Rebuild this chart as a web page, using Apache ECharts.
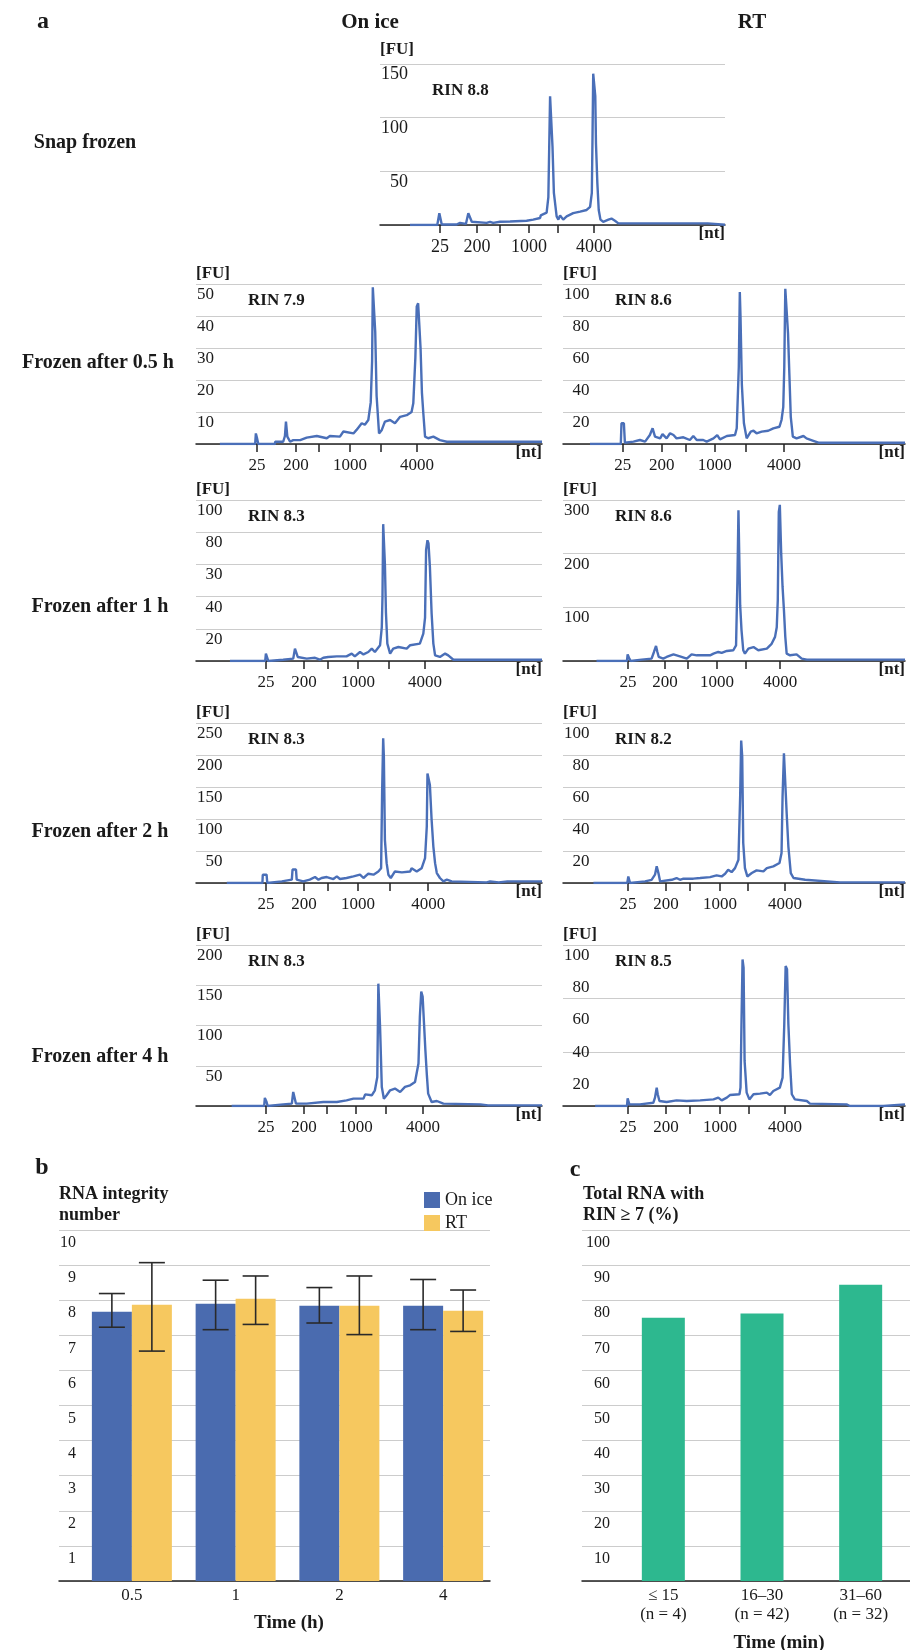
<!DOCTYPE html>
<html>
<head>
<meta charset="utf-8">
<script src="https://cdn.jsdelivr.net/npm/echarts@6.0.0/dist/echarts.min.js"></script>
<style>
html, body { margin: 0; padding: 0; background: #fff; }
#chart { width: 910px; height: 1650px; }
</style>
</head>
<body>
<div id="chart"></div>
<script>
// ---- panel a: electropherograms, [migration position (0-100 of panel width), FU] ----
var traceSnap = [[8.7,0],[16.6,0],[17.2,11],[17.6,11],[17.9,0.5],[22.2,0.5],[22.5,2],[23.2,2],[23.7,0.6],[24.9,1],[25.6,11],[25.9,12.4],[26.6,3],[30.9,2],[31.2,3],[31.9,3],[32.8,2],[34.8,3],[37.7,3.2],[38,4],[42.5,4],[42.8,5],[44.4,5],[44.7,6],[46.4,6.5],[46.6,9],[48.3,11.5],[48.8,26],[49.3,120],[49.8,120],[50,73],[50.4,30],[51.2,8],[51.7,5],[52.2,9],[53.1,5],[54.1,8],[56,11],[58,12.4],[59.9,14],[60.9,17],[61.4,30],[61.6,82],[61.8,141],[62.1,142],[62.4,120],[62.6,76],[63,39],[63.4,14],[63.9,5],[64.7,3],[66.2,5],[67.1,6],[68.1,4],[69.1,1.5],[95,1.5],[95.1,0.2],[100,0.2]];
var traceIce05 = [[6.9,0],[17.1,0],[17.3,3.3],[17.6,2],[18,0],[22.8,0],[22.9,0.7],[25.2,0.7],[25.7,2.5],[26,7],[26.4,2.3],[27.2,0.7],[28.1,1.2],[30.1,1.2],[32,2],[34.9,2.5],[37.8,1.8],[38.7,2.5],[41.6,2.3],[42.6,3.9],[45.5,3.3],[46.4,4.4],[47.9,6.5],[48.8,6],[49.8,7.5],[50.5,13],[50.9,26],[51.1,49],[51.5,49],[51.8,35],[52.2,15],[52.9,3.3],[53.7,4.4],[54.6,7],[56.1,7.5],[57.5,6.5],[59,8.5],[60.9,9],[62.3,10],[62.8,12.7],[63.4,27],[63.8,43],[64.2,44],[64.5,38],[64.9,30],[65.3,16],[65.7,9.6],[66.2,2.3],[67.1,1.8],[68.6,2.3],[70.5,1.2],[72.5,0.7],[100,0.7]];
var traceRT05 = [[7.9,0],[16.9,0],[17.1,13],[17.8,13],[18.1,0.8],[20.6,1.5],[22.5,2.5],[24,1.5],[25.4,5.6],[26.2,9.8],[26.9,4.6],[28.4,3.5],[29.1,6.2],[30.3,3.5],[31.3,6.7],[32.3,5.6],[33.2,3.5],[35.2,4.2],[37.1,2.5],[38.1,5],[39.1,2.5],[41,2.5],[42,1.5],[44,3.5],[45.1,5.6],[45.9,2.9],[47.9,5],[50.3,5.6],[50.8,9.8],[51.4,48],[51.7,95],[51.9,80],[52.3,37],[52.9,13],[53.7,3.5],[54.9,7.7],[55.7,8.3],[56.6,6.7],[58.1,7.7],[60,8.3],[61.5,9.8],[63.3,10.8],[63.9,15],[64.4,23],[64.7,48],[65,97],[65.4,98],[65.8,69],[66.2,43],[66.6,17],[67.2,4.6],[68.3,3.5],[70.3,5],[71.2,3.5],[73.2,2],[74.7,0.8],[100,0.8]];
var traceIce1 = [[9.8,0],[20,0],[20.2,4.6],[20.6,3.5],[20.9,0],[25.2,0.8],[28.1,1.5],[28.6,7.7],[29.1,8.7],[29.4,2.5],[32,1.5],[34.4,2],[35.8,0.8],[36.8,2],[38.2,2.5],[40.7,2.9],[43.5,2.9],[45,4.6],[45.9,2.9],[47.4,5.6],[48.4,4.1],[49.8,5.6],[50.8,7.7],[51.7,5.6],[53.2,9.8],[53.7,21],[53.9,40],[54.1,85],[54.4,86],[54.6,60],[54.9,30],[55.3,10.8],[56.1,4.6],[57,7.7],[58.5,8.7],[60.9,7.7],[61.9,9.8],[64.7,10.8],[65.7,17],[66.2,27],[66.5,69],[66.9,75],[67.2,73],[67.6,58.5],[68.1,29.5],[68.6,10.8],[69.1,3.5],[70.5,2.5],[72,4.6],[72.9,3.5],[74.4,0.8],[100,0.8]];
var traceRT1 = [[9.8,0],[18.7,0],[18.9,12.4],[19.4,4.4],[19.8,0],[23,2.5],[25.9,4.4],[26.6,16.8],[27.2,28],[27.6,16.8],[28,7.5],[29.3,4.4],[30.3,7.5],[32.3,12.4],[34.2,8.7],[36.2,4.4],[37.6,12.4],[39.1,10.6],[43,10.6],[44,13.7],[45.4,16.8],[46.4,15],[47.9,18.7],[49.8,20],[50.6,29],[51,150],[51.3,281],[51.6,175],[51.8,104],[52.2,57],[52.7,20],[53.2,13.7],[54.2,23],[55.7,26],[57.1,20],[59.6,23],[61,32],[62,45],[62.5,63],[62.8,113],[63.1,278],[63.4,291],[63.8,200],[64.2,138],[64.6,95],[65,45],[65.4,13.7],[66.4,10.6],[68.3,12.4],[69.8,4.4],[71.3,2.5],[100,2.5]];
var traceIce2 = [[8.9,0],[19.2,0],[19.3,13],[20.4,13],[20.6,0],[24.8,2.6],[27.7,5.2],[27.9,21],[28.9,21],[29.1,5.2],[31,2.6],[32.9,5.2],[34.4,9.3],[35.4,5.2],[36.3,7.8],[37.8,9.3],[39.7,6.2],[40.7,10.4],[41.6,6.2],[43.5,7.8],[45.5,10.4],[47.4,13],[48.4,7.8],[49.8,14.5],[51.3,13],[52.7,18],[53.5,23],[53.8,145],[54.1,226],[54.3,197],[54.6,67],[55.1,31],[55.6,13],[56.3,7.8],[57.5,18],[59.5,16.6],[61.9,18],[62.3,23],[63.8,18],[65.2,23],[66.2,39],[66.7,88],[66.9,171],[67.3,174],[67.6,153],[68.1,98.5],[68.6,57],[69.1,31],[69.6,15.6],[70.5,7.8],[71.5,2.6],[72.5,5.2],[73.9,2.6],[84,1],[85,2.6],[87.5,1],[90,2.6],[100,2.6]];
var traceRT2 = [[8.9,0],[18.8,0],[19.1,4.1],[19.6,0],[24,1],[25.9,2],[26.9,5.2],[27.4,10.4],[27.9,6.2],[28.4,1],[31.8,2],[33.2,3.1],[34.2,2],[35.2,2.7],[38.1,2.7],[40.1,3.1],[43,3.7],[44.9,4.8],[46.4,4.1],[47.4,5.8],[48.3,8.3],[49.3,6.8],[50.3,9.3],[51.3,14.5],[51.8,54],[52.1,89],[52.4,79],[52.7,25],[53.2,9.3],[53.9,4.1],[55.2,6.2],[56.6,7.9],[58.6,7.3],[59.6,9.3],[61.5,10.4],[63.3,12.5],[63.9,18.7],[64.2,54],[64.6,81],[65,80],[65.4,43.6],[65.9,22.8],[66.6,6.2],[67.4,3.1],[70.8,2],[71.3,1],[81,0.4],[100,0.4]];
var traceIce4 = [[10.3,0],[19.7,0],[19.9,10],[20.4,5],[20.7,0],[25.2,2],[27.7,2.9],[28.1,17.4],[28.6,15.4],[28.9,2.9],[32,2.9],[36.8,5],[40.7,5],[43.5,7],[45.5,9.1],[48.4,9.1],[48.9,14.5],[50.8,13.3],[51.7,19.5],[52.4,36],[52.7,152],[53,154],[53.2,98],[53.7,23.7],[54.3,9.1],[55.1,13.3],[56.1,19.5],[57.5,21.6],[59,17.4],[60.4,23.7],[61.9,25.7],[63.3,29.9],[64.3,52.7],[64.7,111],[65.1,142],[65.5,136],[65.9,102.5],[66.3,69],[66.7,40],[67.1,15.4],[68.1,5],[69.6,6.2],[71.5,2.9],[82.2,2],[84.4,0.8],[100,0.8]];
var traceRT4 = [[9.4,0],[18.7,0],[18.9,4.8],[19.4,1],[19.8,0],[22.5,1],[26.4,2],[26.9,5.2],[27.4,11.4],[27.7,7.3],[28.2,3.1],[30.3,2.5],[33.2,3.5],[36.2,3.1],[40.1,3.5],[44,4.1],[45.4,5.2],[46.4,3.5],[47.9,5.2],[48.8,6.8],[51.6,7.3],[51.9,11.4],[52.2,53],[52.5,91],[52.8,86],[53.1,28],[53.7,8.3],[54.5,4.1],[55.7,7.3],[57.6,7.7],[59.6,8.3],[60.5,6.8],[61.5,9.3],[63.4,11.4],[64.2,17.6],[64.7,50.8],[65.1,87],[65.5,85],[65.9,50.8],[66.4,25.9],[66.9,7.3],[67.8,4.1],[71.3,3.1],[72.2,1.5],[82.9,1],[83.9,0],[93.7,0],[94.2,1],[100,1]];

// [nt] ladder tick positions per panel (25, 200, 500, 1000, 2000, 4000)
var ticksSnap = [17.4, 28.1, 34.8, 43.2, 51.6, 62.0];
var ticksIce05 = [17.6, 28.9, 35.5, 44.5, 53.5, 63.9];
var ticksRT05 = [17.5, 28.9, 36.0, 44.4, 53.5, 64.6];
var ticksIce1 = [20.2, 31.2, 38.2, 46.8, 55.8, 66.2];
var ticksRT1 = [19.0, 29.8, 36.5, 45.0, 53.5, 63.5];
var ticksIce2 = [20.2, 31.2, 38.2, 46.8, 56.1, 67.1];
var ticksRT2 = [19.0, 30.1, 37.1, 45.9, 54.1, 64.9];
var ticksIce4 = [20.2, 31.2, 37.9, 46.2, 54.9, 65.6];
var ticksRT4 = [19.0, 30.1, 37.1, 45.9, 54.4, 64.9];
var ntLabels = ['25', '200', '1000', '4000'];
var ntLabelIdx = [0, 1, 3, 5];

// [FU] tick labels, bottom to top (as printed)
var fuSnap = ['50', '100', '150'];
var fuIce05 = ['10', '20', '30', '40', '50'];
var fuRT05 = ['20', '40', '60', '80', '100'];
var fuIce1 = ['20', '40', '30', '80', '100'];
var fuRT1 = ['100', '200', '300'];
var fuIce2 = ['50', '100', '150', '200', '250'];
var fuRT2 = ['20', '40', '60', '80', '100'];
var fuIce4 = ['50', '100', '150', '200'];
var fuRT4 = ['20', '40', '60', '80', '100'];

// ---- panel b: RIN by time ----
var timeHours = ['0.5', '1', '2', '4'];
var rinIce = [7.67, 7.90, 7.84, 7.84];
var rinIceLow = [7.23, 7.16, 7.35, 7.16];
var rinIceHigh = [8.19, 8.57, 8.36, 8.59];
var rinRT = [7.87, 8.04, 7.84, 7.70];
var rinRTLow = [6.55, 7.31, 7.02, 7.11];
var rinRTHigh = [9.07, 8.69, 8.69, 8.29];

// ---- panel c: share with RIN >= 7 ----
var timeBins = ['\u2264 15', '16\u201330', '31\u201360'];
var binN = [4, 42, 32];
var pctRin7 = [75, 76.2, 84.4];

var FONT = '"Liberation Serif", "Times New Roman", serif';
var INK = '#1a1a1a';
var TRACE = '#4a6fb8';
var GRIDLINE = '#cccccc';

var ICE_X = 196, ICE_W = 346, RT_X = 563, RT_W = 342;
var rows = [[284, 160], [500, 161], [723, 160], [945, 161]];

var panels = [
    {trace: traceSnap, ticks: ticksSnap, fu: fuSnap, fuMax: 150, lines: 3, rin: 'RIN 8.8', box: [380, 64, 345, 161], rinDy: 27, fuDy: 14, fuSize: 18},
    {trace: traceIce05, ticks: ticksIce05, fu: fuIce05, fuMax: 50, lines: 5, rin: 'RIN 7.9', box: [ICE_X, rows[0][0], ICE_W, rows[0][1]]},
    {trace: traceRT05, ticks: ticksRT05, fu: fuRT05, fuMax: 100, lines: 5, rin: 'RIN 8.6', box: [RT_X, rows[0][0], RT_W, rows[0][1]]},
    {trace: traceIce1, ticks: ticksIce1, fu: fuIce1, fuMax: 100, lines: 5, rin: 'RIN 8.3', box: [ICE_X, rows[1][0], ICE_W, rows[1][1]]},
    {trace: traceRT1, ticks: ticksRT1, fu: fuRT1, fuMax: 300, lines: 3, rin: 'RIN 8.6', box: [RT_X, rows[1][0], RT_W, rows[1][1]]},
    {trace: traceIce2, ticks: ticksIce2, fu: fuIce2, fuMax: 250, lines: 5, rin: 'RIN 8.3', box: [ICE_X, rows[2][0], ICE_W, rows[2][1]]},
    {trace: traceRT2, ticks: ticksRT2, fu: fuRT2, fuMax: 100, lines: 5, rin: 'RIN 8.2', box: [RT_X, rows[2][0], RT_W, rows[2][1]]},
    {trace: traceIce4, ticks: ticksIce4, fu: fuIce4, fuMax: 200, lines: 4, rin: 'RIN 8.3', box: [ICE_X, rows[3][0], ICE_W, rows[3][1]]},
    {trace: traceRT4, ticks: ticksRT4, fu: fuRT4, fuMax: 100, lines: 3, rin: 'RIN 8.5', box: [RT_X, rows[3][0], RT_W, rows[3][1]]}
];

var grids = [], xAxes = [], yAxes = [], series = [], texts = [];

function txt(s, x, y, size, bold, align, valign, extra) {
    var st = {text: s, x: x, y: y, fill: INK,
        font: (bold ? 'bold ' : '') + size + 'px ' + FONT,
        textAlign: align || 'left', align: align || 'left',
        textVerticalAlign: valign || 'middle', verticalAlign: valign || 'middle'};
    if (extra) { for (var k in extra) st[k] = extra[k]; }
    texts.push({type: 'text', silent: true, style: st});
}

panels.forEach(function (p) {
    var g = grids.length;
    var L = p.box[0], T = p.box[1], W = p.box[2], H = p.box[3];
    var fs = p.fuSize || 17;
    grids.push({left: L, top: T, width: W, height: H, containLabel: false});
    var labPos = ntLabelIdx.map(function (i) { return p.ticks[i]; });
    xAxes.push({
        gridIndex: g, type: 'value', min: 0, max: 100,
        axisLine: {show: true, onZero: false, lineStyle: {color: '#222', width: 1.5}},
        axisTick: {show: true, customValues: p.ticks, length: 8, lineStyle: {color: '#222', width: 1.5}},
        axisLabel: {
            customValues: labPos, fontSize: fs, color: INK, fontFamily: FONT, margin: 13,
            formatter: function (v) {
                var best = 0;
                labPos.forEach(function (q, i) { if (Math.abs(q - v) < Math.abs(labPos[best] - v)) best = i; });
                return ntLabels[best];
            }
        },
        splitLine: {show: false}
    });
    var step = p.fuMax / p.fu.length;
    var maxLen = Math.max.apply(null, p.fu.map(function (s) { return s.length; }));
    var yi = yAxes.length;
    yAxes.push({
        gridIndex: g, type: 'value', min: 0, max: p.fuMax, interval: step,
        axisLine: {show: false}, axisTick: {show: false}, splitLine: {show: false},
        axisLabel: {
            inside: true, align: 'right', margin: maxLen * fs / 2 + 1, verticalAlign: 'top', lineHeight: 21,
            fontSize: fs, color: INK, fontFamily: FONT,
            formatter: function (v) {
                var i = Math.round(v / step);
                return i === 0 ? '' : p.fu[i - 1];
            }
        }
    });
    yAxes.push({
        gridIndex: g, type: 'value', min: 0, max: p.lines, interval: 1,
        axisLine: {show: false}, axisTick: {show: false}, axisLabel: {show: false},
        splitLine: {show: true, lineStyle: {color: GRIDLINE, width: 1.2}}
    });
    series.push({
        type: 'line', xAxisIndex: g, yAxisIndex: yi, data: p.trace, symbol: 'none', silent: true,
        lineStyle: {color: TRACE, width: 2.4}, z: 5
    });
    txt('[FU]', L, T - (p.fuDy || 10), 17, true);
    txt(p.rin, L + 52, T + (p.rinDy || 17), 17, true);
    txt('[nt]', L + W, T + H + 9, 17, true, 'right');
});

// headers and row labels
txt('a', 43, 22, 24, true, 'center');
txt('On ice', 370, 23, 21, true, 'center');
txt('RT', 752, 23, 21, true, 'center');
txt('Snap frozen', 85, 143, 20, true, 'center');
txt('Frozen after 0.5 h', 98, 363, 20, true, 'center');
txt('Frozen after 1 h', 100, 607, 20, true, 'center');
txt('Frozen after 2 h', 100, 832, 20, true, 'center');
txt('Frozen after 4 h', 100, 1057, 20, true, 'center');

// ---- panel b ----
var BAR_TOP = 1230, BAR_H = 351;
var gbFrame = grids.length;
grids.push({left: 59, top: BAR_TOP, width: 431, height: BAR_H});
var gbBars = grids.length;
grids.push({left: 80, top: BAR_TOP, width: 415, height: BAR_H});

xAxes.push({gridIndex: gbFrame, type: 'category', data: timeHours,
    axisLine: {lineStyle: {color: '#222', width: 1.5}}, axisTick: {show: false}, axisLabel: {show: false}});
yAxes.push({gridIndex: gbFrame, type: 'value', min: 0, max: 10, interval: 1,
    axisLine: {show: false}, axisTick: {show: false},
    splitLine: {show: true, lineStyle: {color: GRIDLINE, width: 1.2}},
    axisLabel: {inside: true, align: 'right', margin: 17, verticalAlign: 'top', lineHeight: 26,
        fontSize: 16, color: INK, fontFamily: FONT,
        formatter: function (v) { return v === 0 ? '' : String(v); }}});
var xbBars = xAxes.length;
xAxes.push({gridIndex: gbBars, type: 'category', data: timeHours,
    axisLine: {show: false}, axisTick: {show: false},
    axisLabel: {fontSize: 17, color: INK, fontFamily: FONT, margin: 6}});
var ybBars = yAxes.length;
yAxes.push({gridIndex: gbBars, type: 'value', min: 0, max: 10, show: false});

series.push({name: 'On ice', type: 'bar', xAxisIndex: xbBars, yAxisIndex: ybBars, data: rinIce,
    barWidth: 40, barGap: '0%', itemStyle: {color: '#4a6baf'}});
series.push({name: 'RT', type: 'bar', xAxisIndex: xbBars, yAxisIndex: ybBars, data: rinRT,
    barWidth: 40, barGap: '0%', itemStyle: {color: '#f6c85f'}});

function errorBars(low, high, offset) {
    return {
        type: 'custom', xAxisIndex: xbBars, yAxisIndex: ybBars, silent: true, z: 10,
        data: low.map(function (l, i) { return [i, l, high[i]]; }),
        encode: {x: 0, y: [1, 2]},
        renderItem: function (params, api) {
            var a = api.coord([api.value(0), api.value(1)]);
            var b = api.coord([api.value(0), api.value(2)]);
            var x = a[0] + offset;
            var s = {stroke: '#2a2a2a', lineWidth: 1.6};
            return {type: 'group', children: [
                {type: 'line', shape: {x1: x, y1: a[1], x2: x, y2: b[1]}, style: s},
                {type: 'line', shape: {x1: x - 13, y1: a[1], x2: x + 13, y2: a[1]}, style: s},
                {type: 'line', shape: {x1: x - 13, y1: b[1], x2: x + 13, y2: b[1]}, style: s}
            ]};
        }
    };
}
series.push(errorBars(rinIceLow, rinIceHigh, -20));
series.push(errorBars(rinRTLow, rinRTHigh, 20));

txt('b', 42, 1168, 24, true, 'center');
txt('RNA integrity\nnumber', 59, 1184, 18, true, 'left', 'top', {lineHeight: 21});
txt('Time (h)', 289, 1623, 19, true, 'center');

// ---- panel c ----
var gcFrame = grids.length;
grids.push({left: 582, top: BAR_TOP, width: 328, height: BAR_H});
var gcBars = grids.length;
grids.push({left: 614, top: BAR_TOP, width: 306, height: BAR_H});
var binLabels = timeBins.map(function (t, i) { return t + '\n(n = ' + binN[i] + ')'; });

xAxes.push({gridIndex: gcFrame, type: 'category', data: binLabels,
    axisLine: {lineStyle: {color: '#222', width: 1.5}}, axisTick: {show: false}, axisLabel: {show: false}});
yAxes.push({gridIndex: gcFrame, type: 'value', min: 0, max: 100, interval: 10,
    axisLine: {show: false}, axisTick: {show: false},
    splitLine: {show: true, lineStyle: {color: GRIDLINE, width: 1.2}},
    axisLabel: {inside: true, align: 'right', margin: 28, verticalAlign: 'top', lineHeight: 26,
        fontSize: 16, color: INK, fontFamily: FONT,
        formatter: function (v) { return v === 0 ? '' : String(v); }}});
var xcBars = xAxes.length;
xAxes.push({gridIndex: gcBars, type: 'category', data: binLabels,
    axisLine: {show: false}, axisTick: {show: false},
    axisLabel: {fontSize: 17, lineHeight: 19, color: INK, fontFamily: FONT, margin: 5}});
var ycBars = yAxes.length;
yAxes.push({gridIndex: gcBars, type: 'value', min: 0, max: 100, show: false});
series.push({type: 'bar', xAxisIndex: xcBars, yAxisIndex: ycBars, data: pctRin7,
    barWidth: 43, itemStyle: {color: '#2db88f'}});

txt('c', 575, 1170, 24, true, 'center');
txt('Total RNA with\nRIN \u2265 7 (%)', 583, 1184, 18, true, 'left', 'top', {lineHeight: 21});
txt('Time (min)', 779, 1643, 19, true, 'center');

var chart = echarts.init(document.getElementById('chart'));
chart.setOption({
    animation: false,
    backgroundColor: '#ffffff',
    textStyle: {fontFamily: FONT},
    grid: grids,
    xAxis: xAxes,
    yAxis: yAxes,
    legend: {
        data: ['On ice', 'RT'], orient: 'vertical', left: 419, top: 1186,
        itemWidth: 16, itemHeight: 16, itemGap: 5, icon: 'rect',
        textStyle: {fontSize: 18, color: INK, fontFamily: FONT}, selectedMode: false
    },
    graphic: {elements: texts},
    series: series
});
</script>
</body>
</html>
